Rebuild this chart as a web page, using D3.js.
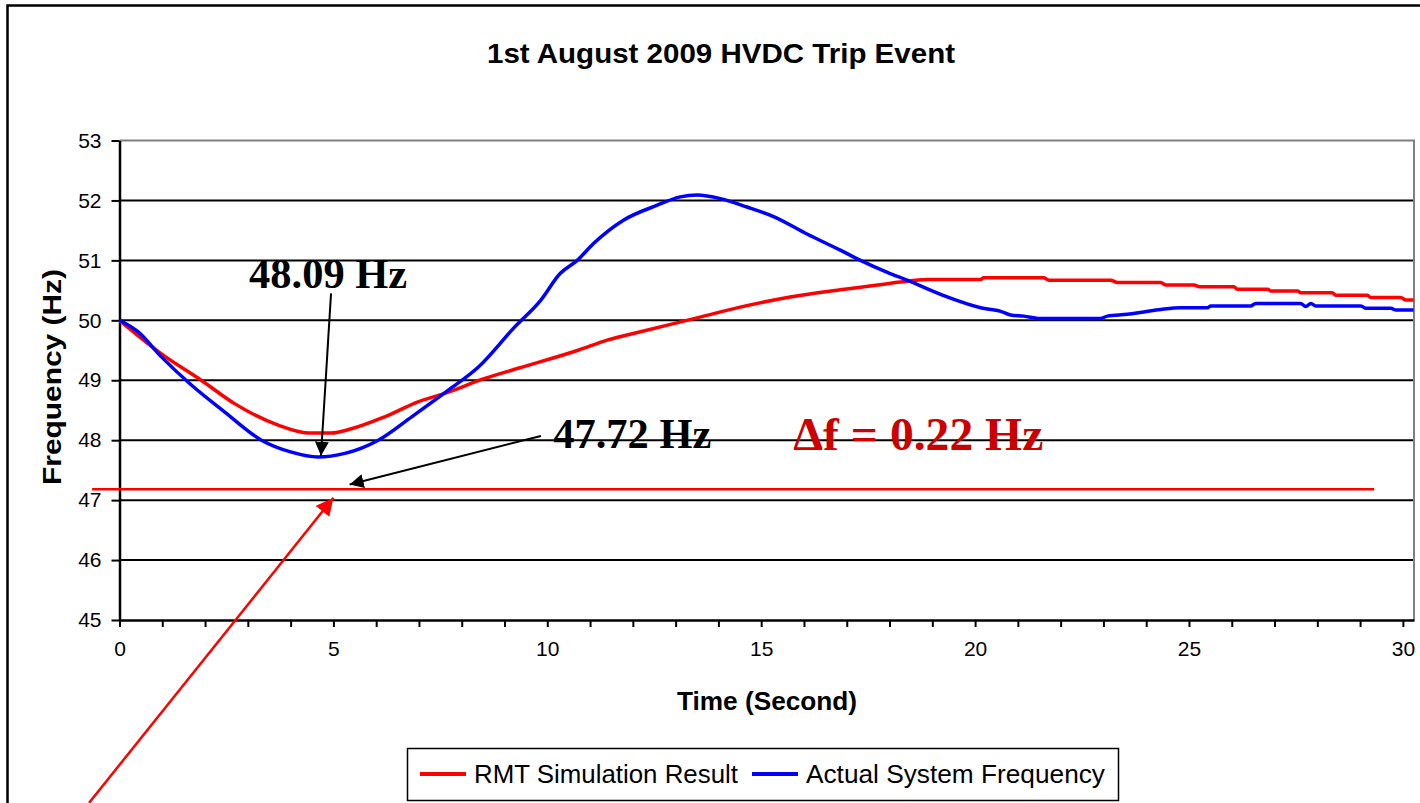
<!DOCTYPE html>
<html>
<head>
<meta charset="utf-8">
<script src="https://cdn.jsdelivr.net/npm/d3@7"></script>
<style>
  body { margin: 0; background: #fff; }
  svg { display: block; font-family: "Liberation Sans", Arial, sans-serif; }
</style>
</head>
<body>
<div class="chart"></div>
<script>
// RMT simulation result (time in seconds, frequency in Hz)
const rmtTime = [0, 0.98, 1.91, 2.69, 3.71, 4.41, 4.95, 5.42, 6.2, 6.98, 7.6, 8.54, 9.32, 10.72,
  11.4, 12.18, 13.5, 14.51, 15.68, 16.85, 17.63, 18.26, 18.88, 20.13, 20.2, 21.6, 21.73,
  23.17, 23.33, 24.34, 24.46, 25.12, 25.24, 26.05, 26.13, 26.84, 26.91, 27.54, 27.61,
  28.35, 28.43, 29.17, 29.25, 29.95, 30.07, 30.25];
const rmtFreq = [50, 49.44, 49.0, 48.61, 48.25, 48.12, 48.12, 48.19, 48.39, 48.64, 48.78, 49.03, 49.2, 49.5,
  49.67, 49.81, 50.04, 50.22, 50.39, 50.51, 50.58, 50.64, 50.68, 50.68, 50.71, 50.71, 50.67,
  50.67, 50.63, 50.63, 50.59, 50.59, 50.56, 50.56, 50.52, 50.52, 50.49, 50.49, 50.46,
  50.46, 50.42, 50.42, 50.38, 50.38, 50.34, 50.34];

// actual system frequency
const actualTime = [0, 0.43, 0.98, 1.68, 2.46, 3.32, 4.02, 4.64, 5.27, 6.05, 6.83, 7.68, 8.39, 9.24,
  9.84, 10.3, 10.7, 11.08, 11.78, 12.57, 13.11, 13.5, 14.05, 14.67, 15.29, 16.07, 16.85,
  17.32, 17.95, 18.41, 19.35, 20.13, 20.6, 20.83, 21.14, 21.53, 22.93, 23.09, 23.56, 23.95,
  24.34, 24.81, 25.43, 25.51, 26.44, 26.56, 27.61, 27.73, 27.85, 27.96, 29.02, 29.14,
  29.72, 29.84, 30.25];
const actualFreq = [50, 49.81, 49.39, 48.92, 48.47, 48.0, 47.8, 47.72, 47.78, 48.0, 48.39, 48.83, 49.22, 49.89,
  50.33, 50.78, 51.0, 51.28, 51.67, 51.92, 52.06, 52.09, 52.03, 51.89, 51.73, 51.44, 51.17,
  51.0, 50.8, 50.67, 50.39, 50.21, 50.15, 50.09, 50.07, 50.03, 50.03, 50.07, 50.1, 50.14,
  50.18, 50.21, 50.21, 50.24, 50.24, 50.28, 50.28, 50.23, 50.28, 50.24, 50.24, 50.2,
  50.2, 50.17, 50.17];

const yTicks = [45, 46, 47, 48, 49, 50, 51, 52, 53];
const xTicks = d3.range(0, 31);
const xLabels = [0, 5, 10, 15, 20, 25, 30];
const seriesNames = ['RMT Simulation Result', 'Actual System Frequency'];
const seriesColors = ['#ff0000', '#0000ff'];

const W = 1420, H = 803;
const plot = { left: 119.5, top: 140.5, right: 1414, bottom: 620 };

const svg = d3.select('.chart')
  .append('svg')
  .attr('width', W)
  .attr('height', H);

svg.append('rect').attr('width', W).attr('height', H).attr('fill', '#fff');

// outer chart frame (runs off the right and bottom edge)
svg.append('rect')
  .attr('x', 7.5).attr('y', 5.5)
  .attr('width', W).attr('height', H)
  .attr('fill', 'none').attr('stroke', '#000').attr('stroke-width', 2.5);

const x = d3.scaleLinear().domain([0, 30.26]).range([plot.left, plot.right]);
const y = d3.scaleLinear().domain([45, 53]).range([plot.bottom, plot.top]);

// gridlines
svg.append('g')
  .selectAll('line')
  .data(yTicks.filter(d => d > 45 && d < 53))
  .join('line')
  .attr('x1', plot.left).attr('x2', plot.right)
  .attr('y1', d => y(d)).attr('y2', d => y(d))
  .attr('stroke', '#000').attr('stroke-width', 2);

// plot area border (top, right)
svg.append('path')
  .attr('d', `M${plot.left},${y(53)}H${plot.right}V${plot.bottom}`)
  .attr('fill', 'none').attr('stroke', '#808080').attr('stroke-width', 2);

// y axis
const yAxis = svg.append('g')
  .attr('transform', `translate(${plot.left},0)`)
  .call(d3.axisLeft(y).tickValues(yTicks).tickSize(8).tickPadding(10).tickSizeOuter(0));
yAxis.select('.domain').attr('stroke-width', 2.5);
yAxis.selectAll('.tick line').attr('stroke-width', 2);
yAxis.selectAll('text').attr('font-size', 21).attr('fill', '#000')
  .attr('font-family', '"Liberation Sans", Arial, sans-serif');

// x axis
const xAxis = svg.append('g')
  .attr('transform', `translate(0,${plot.bottom})`)
  .call(d3.axisBottom(x).tickValues(xTicks).tickSize(7).tickPadding(14).tickSizeOuter(0)
    .tickFormat(d => xLabels.includes(d) ? d : ''));
xAxis.select('.domain').attr('stroke-width', 2.5);
xAxis.selectAll('.tick line').attr('stroke-width', 2);
xAxis.selectAll('text').attr('font-size', 21).attr('fill', '#000')
  .attr('font-family', '"Liberation Sans", Arial, sans-serif');

// titles
svg.append('text')
  .attr('x', 721).attr('y', 63)
  .attr('text-anchor', 'middle')
  .attr('font-size', 28).attr('font-weight', 'bold')
  .attr('textLength', 468).attr('lengthAdjust', 'spacingAndGlyphs')
  .text('1st August 2009 HVDC Trip Event');

svg.append('text')
  .attr('x', 767).attr('y', 710)
  .attr('text-anchor', 'middle')
  .attr('font-size', 26).attr('font-weight', 'bold')
  .attr('textLength', 180).attr('lengthAdjust', 'spacingAndGlyphs')
  .text('Time (Second)');

svg.append('text')
  .attr('transform', 'translate(61,377) rotate(-90)')
  .attr('text-anchor', 'middle')
  .attr('font-size', 26).attr('font-weight', 'bold')
  .attr('textLength', 216).attr('lengthAdjust', 'spacingAndGlyphs')
  .text('Frequency (Hz)');

// series lines
const series = [
  { t: rmtTime, f: rmtFreq },
  { t: actualTime, f: actualFreq }
];
const line = d3.line().x(d => x(d[0])).y(d => y(d[1])).curve(d3.curveMonotoneX);

svg.append('g')
  .selectAll('path')
  .data(series)
  .join('path')
  .attr('d', s => line(s.t.map((t, i) => [t, s.f[i]])))
  .attr('fill', 'none')
  .attr('stroke', (s, i) => seriesColors[i])
  .attr('stroke-width', 3.5)
  .attr('stroke-linejoin', 'round');

// annotations
const defs = svg.append('defs');
[['arrowBlack', '#000'], ['arrowRed', '#ff0000']].forEach(([id, c]) => {
  defs.append('marker')
    .attr('id', id)
    .attr('viewBox', '0 0 10 10')
    .attr('refX', 10).attr('refY', 5)
    .attr('markerWidth', 7).attr('markerHeight', 7)
    .attr('markerUnits', 'strokeWidth')
    .attr('orient', 'auto')
    .append('path').attr('d', 'M0,0L10,5L0,10z').attr('fill', c);
});

const limitFreq = 47.18;
svg.append('line')
  .attr('x1', x(-0.64)).attr('x2', x(29.33))
  .attr('y1', y(limitFreq)).attr('y2', y(limitFreq))
  .attr('stroke', '#ff0000').attr('stroke-width', 2.5);

svg.append('line')
  .attr('x1', x(4.945)).attr('y1', y(50.45))
  .attr('x2', x(4.71)).attr('y2', y(47.74))
  .attr('stroke', '#000').attr('stroke-width', 2)
  .attr('marker-end', 'url(#arrowBlack)');

svg.append('line')
  .attr('x1', x(9.85)).attr('y1', y(48.07))
  .attr('x2', x(5.38)).attr('y2', y(47.26))
  .attr('stroke', '#000').attr('stroke-width', 2)
  .attr('marker-end', 'url(#arrowBlack)');

svg.append('line')
  .attr('x1', x(-0.71)).attr('y1', y(41.95))
  .attr('x2', x(5.0)).attr('y2', y(47.04))
  .attr('stroke', '#ff0000').attr('stroke-width', 2.5)
  .attr('marker-end', 'url(#arrowRed)');

const serif = '"Liberation Serif", "Times New Roman", serif';
svg.append('text')
  .attr('x', x(3.03)).attr('y', y(50.54))
  .attr('font-family', serif).attr('font-weight', 'bold').attr('font-size', 42)
  .attr('textLength', 158).attr('lengthAdjust', 'spacingAndGlyphs')
  .text('48.09 Hz');

svg.append('text')
  .attr('x', x(10.14)).attr('y', y(47.87))
  .attr('font-family', serif).attr('font-weight', 'bold').attr('font-size', 42)
  .attr('textLength', 158).attr('lengthAdjust', 'spacingAndGlyphs')
  .text('47.72 Hz');

svg.append('text')
  .attr('x', x(15.75)).attr('y', y(47.84))
  .attr('font-family', serif).attr('font-weight', 'bold').attr('font-size', 47)
  .attr('fill', '#cc0000')
  .attr('textLength', 250).attr('lengthAdjust', 'spacingAndGlyphs')
  .text('\u0394f = 0.22 Hz');

// legend
const legend = svg.append('g');
legend.append('rect')
  .attr('x', 407.5).attr('y', 748.5)
  .attr('width', 711).attr('height', 52)
  .attr('fill', '#fff').attr('stroke', '#000').attr('stroke-width', 1.5);

const legendX = [420, 752];
const legendTextLen = [264, 299];
seriesNames.forEach((name, i) => {
  legend.append('line')
    .attr('x1', legendX[i]).attr('x2', legendX[i] + 46)
    .attr('y1', 774).attr('y2', 774)
    .attr('stroke', seriesColors[i]).attr('stroke-width', 4);
  legend.append('text')
    .attr('x', legendX[i] + 54).attr('y', 783)
    .attr('font-size', 25)
    .attr('textLength', legendTextLen[i]).attr('lengthAdjust', 'spacingAndGlyphs')
    .text(name);
});
</script>
</body>
</html>
